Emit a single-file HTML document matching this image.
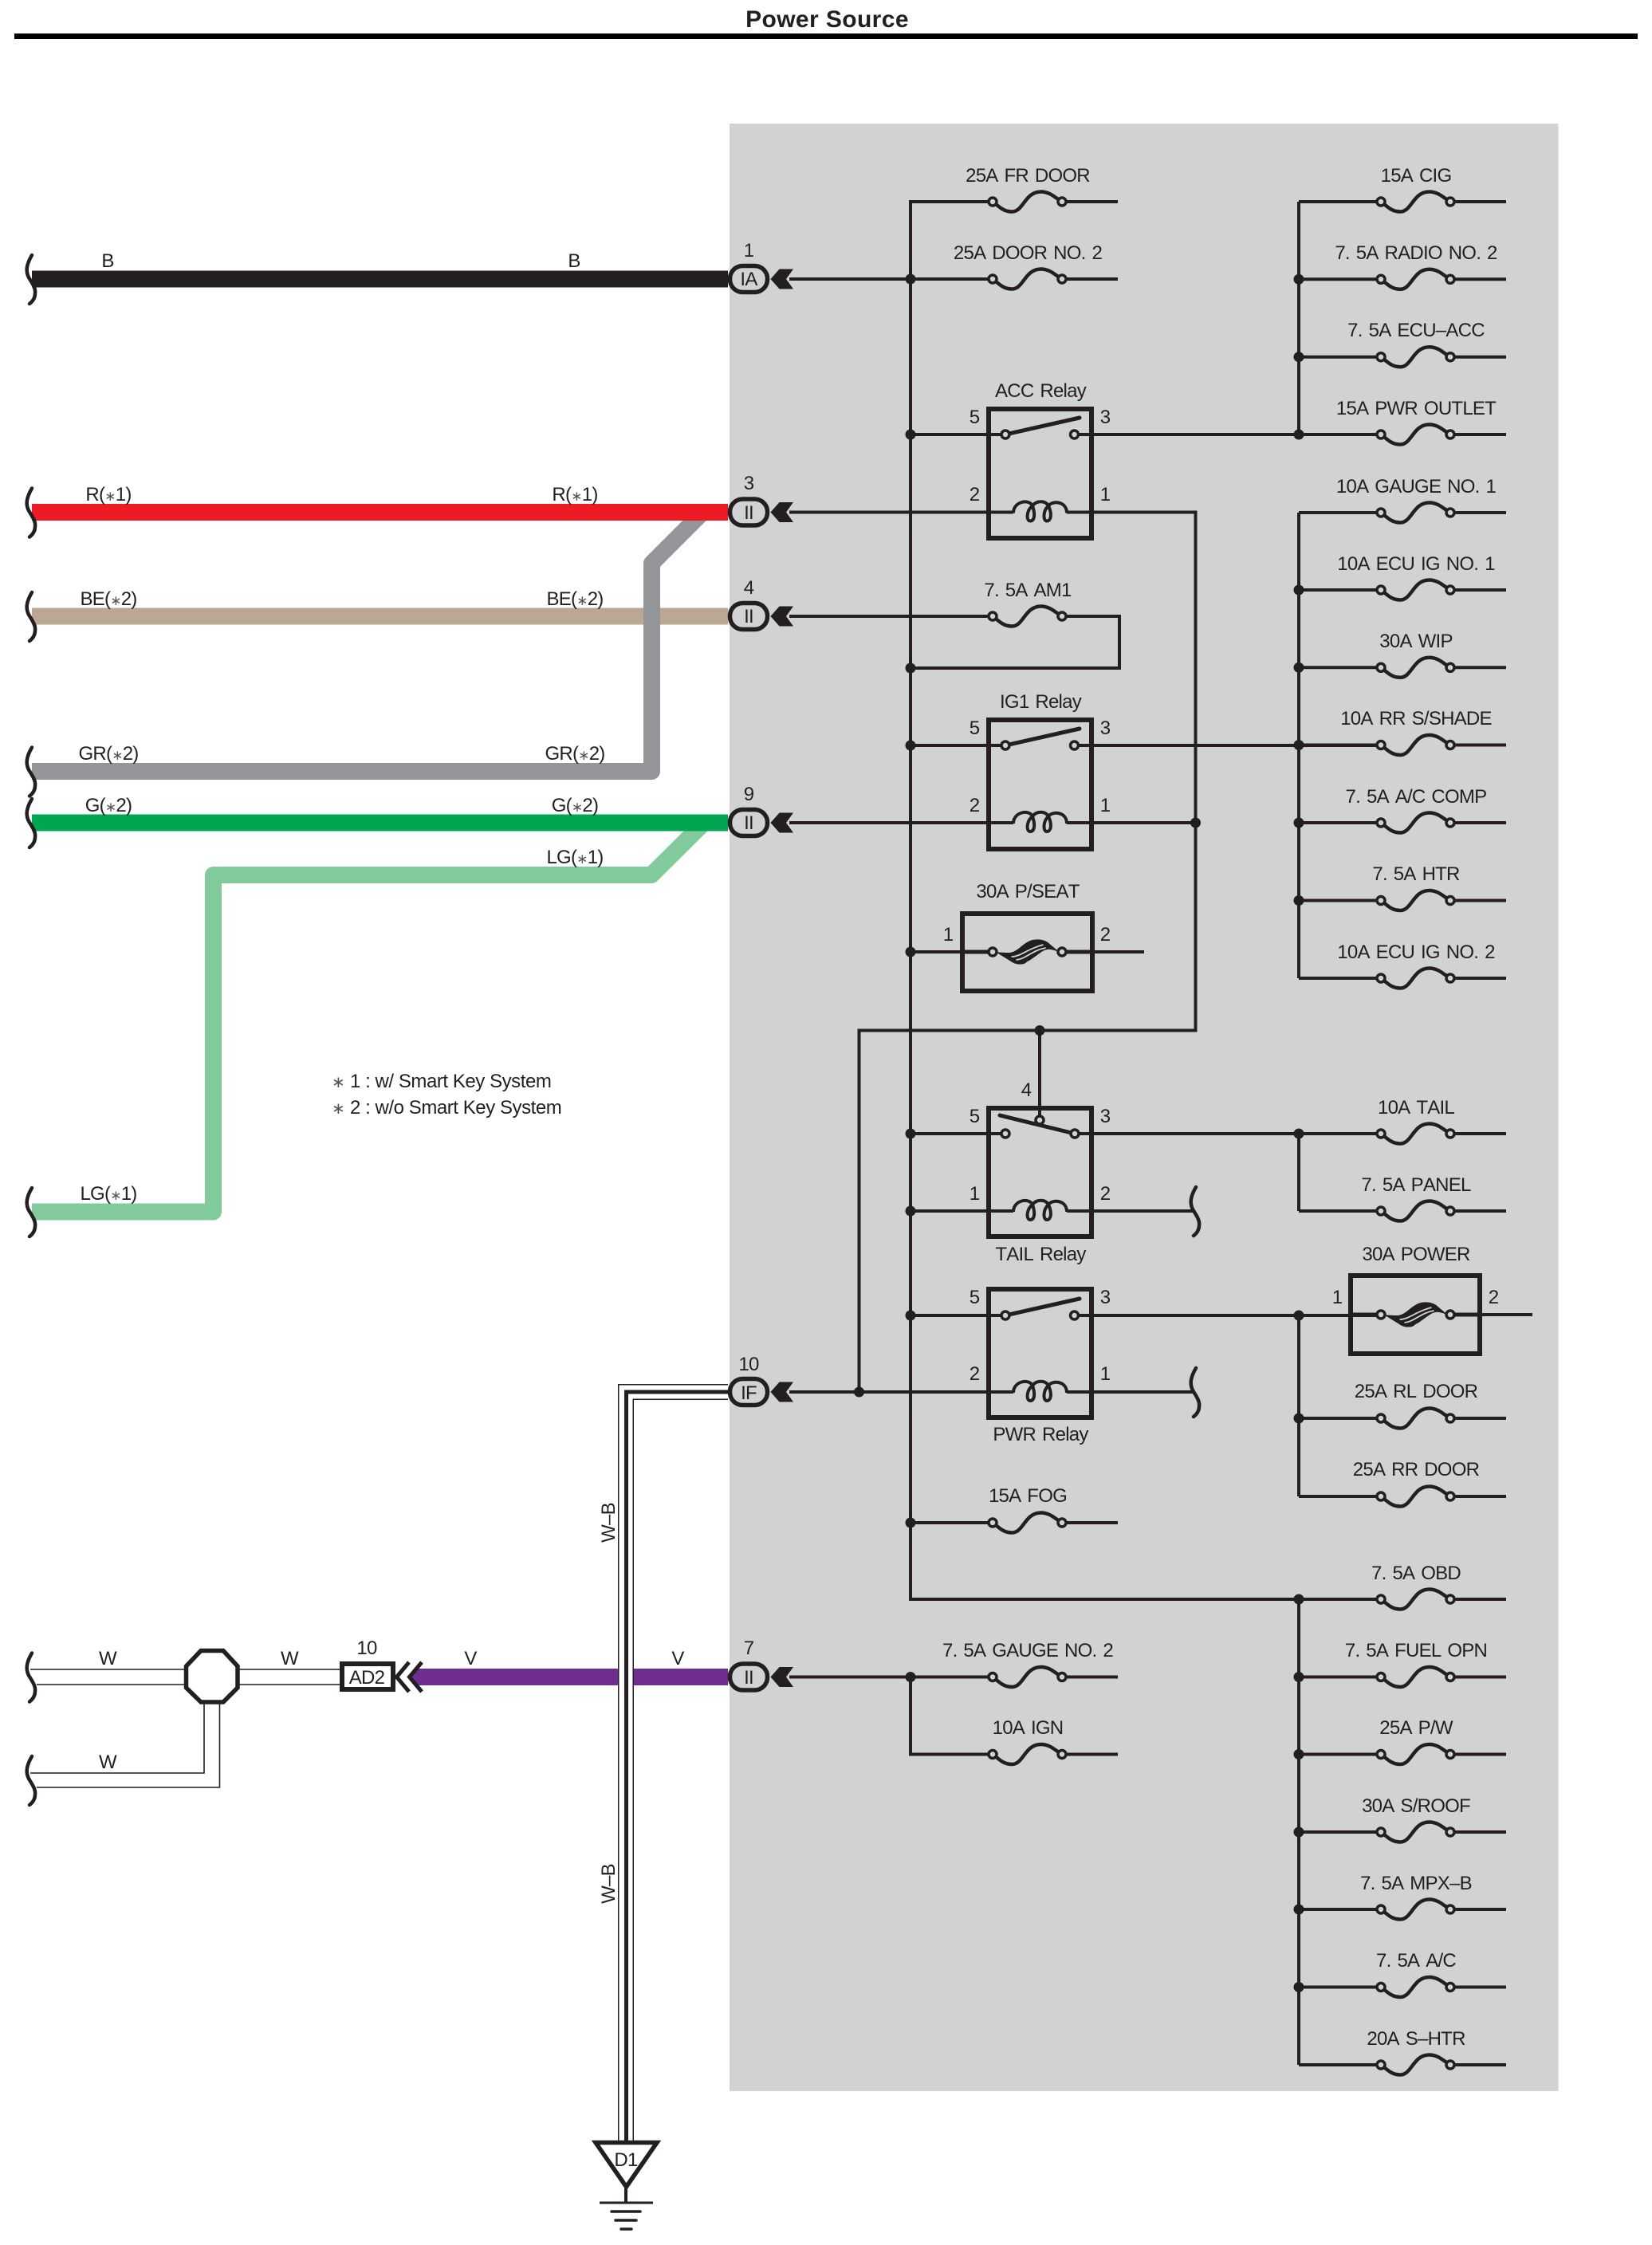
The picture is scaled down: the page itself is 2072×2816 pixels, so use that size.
<!DOCTYPE html>
<html lang="en">
<head>
<meta charset="utf-8">
<title>Power Source</title>
<style>
html,body{margin:0;padding:0;background:#fff}
svg{display:block}
text{font-family:"Liberation Sans",Arial,sans-serif;font-size:24px;fill:#231f20;letter-spacing:-.75px;word-spacing:2px;font-kerning:none;text-anchor:middle}
.w{fill:none;stroke:#231f20;stroke-width:4}
.f{fill:none;stroke:#231f20;stroke-width:6}
.t{fill:none;stroke:#231f20;stroke-width:1.6}
.c{fill:#d0d2d4;stroke:#231f20;stroke-width:3.5}
.a{fill:#555;font-size:17px}
</style>
</head>
<body>
<svg width="2072" height="2816" viewBox="0 0 2072 2816" xmlns="http://www.w3.org/2000/svg">
<defs>
<g id="fuse">
<path d="M43 0H113.500" class="w"/>
<path d="M-43 0C-33 9-28 12.500-19 12.500C-5 12.500-3-12.500 17-12.500C28-12.500 34-6 43 0" fill="none" stroke="#231f20" stroke-width="4.500"/>
<circle cx="-43.500" cy="0" r="5" class="c"/><circle cx="43.500" cy="0" r="5" class="c"/>
</g>
<g id="hfuse">
<path d="M-40 0C-30 1-26 1-22 1C-15 0-10-5-5-9C2-14 6-15.500 11-15.500C18-16 24-14 28-10L40 0C34-2 28-4 25-3C20-2 18 0 15 2C8 7 3 11 0 12C-3 15-5 15.500-8 15.500C-14 16-18 14-22 11Z" fill="#231f20"/>
<path d="M-20 6C-8 6 0-4 20-9M-14 10C-2 9 6-2 23-5" fill="none" stroke="#d0d2d4" stroke-width="1.800"/>
<circle cx="-43.500" cy="0" r="5" class="c"/><circle cx="43.500" cy="0" r="5" class="c"/>
</g>
<path id="coil" d="M-34 1C-34-14-14-17-10-8C-6 4-8 11-13 11C-18 11-18-2-10-8C-5-15 6-15 10-8C15 3 13 11 8 11C3 11 3-2 10-8C15-15 33-14 33 1" fill="none" stroke="#231f20" stroke-width="4"/>
<path id="sq" d="M1-30C-6-18-7-10-3-2C2 6 6 12 5 18C5 24 2 28-2 31" fill="none" stroke="#231f20" stroke-width="4.500" stroke-linecap="round"/>
<g id="conn">
<rect x="-23.500" y="-16.500" width="47" height="33" rx="16" fill="#d0d2d4" stroke="#231f20" stroke-width="5.500"/>
<polygon points="27.500,0 38.500,-12.500 56,-12.500 47,0 56,12.500 38.500,12.500" fill="#231f20"/>
</g>
<circle id="dot" r="6.500" fill="#231f20"/>
</defs>

<rect x="915" y="155" width="1039.500" height="2468" fill="#d0d2d4"/>

<text x="1037.500" y="34" style="font-size:30px;font-weight:bold;letter-spacing:.4px;word-spacing:0">Power Source</text>
<rect x="18" y="42" width="2036" height="7" fill="#000"/>

<!-- thick harness wires -->
<path d="M40 350H913" fill="none" stroke="#231f20" stroke-width="21"/>
<path d="M40 773H913" fill="none" stroke="#bba793" stroke-width="21"/>
<path d="M40 967.500H817.500V706.500L880 644" fill="none" stroke="#939598" stroke-width="21" stroke-linejoin="round"/>
<path d="M40 642.500H913" fill="none" stroke="#ed1c24" stroke-width="21"/>
<path d="M40 1520H267.500V1097.500H817L880 1035" fill="none" stroke="#82ca9c" stroke-width="21" stroke-linejoin="round"/>
<path d="M40 1032H913" fill="none" stroke="#00a651" stroke-width="21"/>
<polygon points="513,2103.500 522,2093 913,2093 913,2114 522,2114" fill="#6f2c91"/>

<!-- W-B wire -->
<path d="M913 1746H785V2688" fill="none" stroke="#231f20" stroke-width="20"/>
<path d="M913 1746H785V2688" fill="none" stroke="#fff" stroke-width="17"/>
<path d="M913 1746H785.500V2688" fill="none" stroke="#231f20" stroke-width="5"/>

<!-- left squiggles -->
<use href="#sq" x="39" y="350"/><use href="#sq" x="39" y="642.500"/><use href="#sq" x="39" y="773"/>
<use href="#sq" x="39" y="967.500"/><use href="#sq" x="39" y="1032"/><use href="#sq" x="39" y="1520"/>
<use href="#sq" x="39" y="2103.500"/><use href="#sq" x="39" y="2233"/>

<!-- W wires -->
<path d="M38 2094H231M46 2113H231M300 2094H426M300 2113H426M38 2224H256V2137M46 2242H275.500V2137" class="t"/>
<polygon points="252,2070.500 280,2070.500 298,2090 298,2117 280,2135 252,2135 233.500,2117 233.500,2090" fill="#fff" stroke="#231f20" stroke-width="5.500"/>
<rect x="429" y="2087" width="64" height="32" fill="#fff" stroke="#231f20" stroke-width="6"/>
<path d="M513 2085L497.500 2103.500L513 2122M529 2085L513.500 2103.500L529 2122" fill="none" stroke="#231f20" stroke-width="5"/>

<!-- connectors -->
<use href="#conn" x="939" y="350"/><use href="#conn" x="939" y="642.500"/><use href="#conn" x="939" y="773"/>
<use href="#conn" x="939" y="1032"/><use href="#conn" x="939" y="1746"/><use href="#conn" x="939" y="2103.500"/>

<!-- internal wiring -->
<path class="w" d="M1245 253H1142V2006H1629M990 350H1245M1142 545H1261M1347 545H1732
M990 642.500H1271M1338 642.500H1499.500V1292.500H1077.500V1746M990 773H1245M1332 773H1404V838H1142
M1142 935H1261M1347 935H1732M990 1032H1271M1338 1032H1499
M1142 1194H1245M1332 1194H1435M1304 1292.500V1405
M1142 1422H1261M1348 1422H1732M1142 1519H1271M1338 1519H1497
M1142 1650H1261M1347 1650H1732M1818 1649H1922M990 1746H1271M1338 1746H1497
M1142 1910H1245M990 2103.500H1245M1142 2103.500V2200.500H1245
M1629 253V545M1629 643V1227M1629 1422V1519M1629 1650V1877M1629 2006V2590
M1629 253H1732M1629 350.300H1732M1629 447.700H1732
M1629 643H1732M1629 740H1732M1629 837.300H1732M1629 934.500H1732M1629 1032H1732M1629 1129.500H1732M1629 1227H1732
M1629 1519H1732M1629 1779H1732M1629 1877H1732
M1629 2006H1732M1629 2103.500H1732M1629 2200.500H1732M1629 2298H1732M1629 2395H1732M1629 2492.500H1732M1629 2590H1732"/>

<!-- fuses -->
<use href="#fuse" x="1288.500" y="253"/><use href="#fuse" x="1288.500" y="350"/>
<path d="M-43 0C-33 9-28 12.500-19 12.500C-5 12.500-3-12.500 17-12.500C28-12.500 34-6 43 0" fill="none" stroke="#231f20" stroke-width="4.500" transform="translate(1288.500 773)"/>
<circle cx="1245" cy="773" r="5" class="c"/><circle cx="1332" cy="773" r="5" class="c"/>
<use href="#fuse" x="1288.500" y="1910"/><use href="#fuse" x="1288.500" y="2103.500"/><use href="#fuse" x="1288.500" y="2200.500"/>
<use href="#fuse" x="1775.500" y="253"/><use href="#fuse" x="1775.500" y="350.300"/><use href="#fuse" x="1775.500" y="447.700"/><use href="#fuse" x="1775.500" y="545"/>
<use href="#fuse" x="1775.500" y="643"/><use href="#fuse" x="1775.500" y="740"/><use href="#fuse" x="1775.500" y="837.300"/><use href="#fuse" x="1775.500" y="934.500"/>
<use href="#fuse" x="1775.500" y="1032"/><use href="#fuse" x="1775.500" y="1129.500"/><use href="#fuse" x="1775.500" y="1227"/>
<use href="#fuse" x="1775.500" y="1422"/><use href="#fuse" x="1775.500" y="1519"/><use href="#fuse" x="1775.500" y="1779"/><use href="#fuse" x="1775.500" y="1877"/>
<use href="#fuse" x="1775.500" y="2006"/><use href="#fuse" x="1775.500" y="2103.500"/><use href="#fuse" x="1775.500" y="2200.500"/><use href="#fuse" x="1775.500" y="2298"/>
<use href="#fuse" x="1775.500" y="2395"/><use href="#fuse" x="1775.500" y="2492.500"/><use href="#fuse" x="1775.500" y="2590"/>

<!-- right squiggles on wiring -->
<use href="#sq" x="1499" y="1519"/><use href="#sq" x="1499" y="1746"/>

<!-- relays -->
<rect x="1240" y="513" width="129" height="162" class="f"/>
<rect x="1240" y="903" width="129" height="162" class="f"/>
<rect x="1240" y="1390" width="129" height="161" class="f"/>
<rect x="1240" y="1617" width="129" height="161" class="f"/>
<use href="#coil" x="1305" y="642.500"/><use href="#coil" x="1305" y="1032"/><use href="#coil" x="1305" y="1519"/><use href="#coil" x="1305" y="1746"/>
<path d="M1261 545L1354 524M1261 935L1354 914M1261 1650L1354 1629M1254 1399L1348 1422" fill="none" stroke="#231f20" stroke-width="5" stroke-linecap="round"/>
<circle cx="1261" cy="545" r="5" class="c"/><circle cx="1347.500" cy="545" r="5" class="c"/>
<circle cx="1261" cy="935" r="5" class="c"/><circle cx="1347.500" cy="935" r="5" class="c"/>
<circle cx="1261" cy="1422" r="5" class="c"/><circle cx="1348" cy="1422" r="5" class="c"/><circle cx="1304" cy="1405" r="5" class="c"/>
<circle cx="1261" cy="1650" r="5" class="c"/><circle cx="1347.500" cy="1650" r="5" class="c"/>

<!-- heavy fuses -->
<rect x="1207" y="1146" width="163" height="97" class="f"/>
<path d="M1207 1194H1245M1332 1194H1370" fill="none" stroke="#231f20" stroke-width="5"/>
<use href="#hfuse" x="1288.500" y="1194"/>
<rect x="1694" y="1600" width="162" height="98" class="f"/>
<path d="M1694 1649H1732M1818 1649H1856" fill="none" stroke="#231f20" stroke-width="5"/>
<use href="#hfuse" x="1775.500" y="1649"/>

<!-- junction dots -->
<use href="#dot" x="1142" y="350"/><use href="#dot" x="1142" y="545"/><use href="#dot" x="1142" y="838"/><use href="#dot" x="1142" y="935"/>
<use href="#dot" x="1142" y="1194"/><use href="#dot" x="1142" y="1422"/><use href="#dot" x="1142" y="1519"/><use href="#dot" x="1142" y="1650"/>
<use href="#dot" x="1142" y="1910"/><use href="#dot" x="1142" y="2103.500"/>
<use href="#dot" x="1304" y="1292.500"/><use href="#dot" x="1499.500" y="1032"/><use href="#dot" x="1077.500" y="1746"/>
<use href="#dot" x="1629" y="350.300"/><use href="#dot" x="1629" y="447.700"/><use href="#dot" x="1629" y="545"/>
<use href="#dot" x="1629" y="740"/><use href="#dot" x="1629" y="837.300"/><use href="#dot" x="1629" y="934.500"/><use href="#dot" x="1629" y="1032"/><use href="#dot" x="1629" y="1129.500"/>
<use href="#dot" x="1629" y="1422"/><use href="#dot" x="1629" y="1650"/><use href="#dot" x="1629" y="1779"/>
<use href="#dot" x="1629" y="2006"/><use href="#dot" x="1629" y="2103.500"/><use href="#dot" x="1629" y="2200.500"/><use href="#dot" x="1629" y="2298"/><use href="#dot" x="1629" y="2395"/><use href="#dot" x="1629" y="2492.500"/>

<!-- ground -->
<polygon points="747,2687.500 824,2687.500 785.500,2743" fill="#fff" stroke="#231f20" stroke-width="5.500"/>
<path d="M785 2745V2763" class="w"/>
<path d="M752 2763H819" fill="none" stroke="#231f20" stroke-width="3"/>
<path d="M767 2774H803" fill="none" stroke="#231f20" stroke-width="3.500" stroke-linecap="round"/>
<path d="M772 2785H798" fill="none" stroke="#231f20" stroke-width="3.500" stroke-linecap="round"/>
<path d="M779 2796H792" fill="none" stroke="#231f20" stroke-width="3.500" stroke-linecap="round"/>
<text x="785" y="2717">D1</text>

<!-- wire labels -->
<text x="135" y="335">B</text><text x="720" y="335">B</text>
<text x="136" y="628">R(<tspan class="a">∗</tspan>1)</text><text x="721" y="628">R(<tspan class="a">∗</tspan>1)</text>
<text x="136" y="759">BE(<tspan class="a">∗</tspan>2)</text><text x="721" y="759">BE(<tspan class="a">∗</tspan>2)</text>
<text x="136" y="953">GR(<tspan class="a">∗</tspan>2)</text><text x="721" y="953">GR(<tspan class="a">∗</tspan>2)</text>
<text x="136" y="1018">G(<tspan class="a">∗</tspan>2)</text><text x="721" y="1018">G(<tspan class="a">∗</tspan>2)</text>
<text x="721" y="1083">LG(<tspan class="a">∗</tspan>1)</text><text x="136" y="1505">LG(<tspan class="a">∗</tspan>1)</text>
<text x="135" y="2088">W</text><text x="363" y="2088">W</text><text x="135" y="2218">W</text>
<text x="590" y="2088">V</text><text x="850" y="2088">V</text>
<text transform="translate(771 1910) rotate(-90)">W–B</text>
<text transform="translate(771 2363) rotate(-90)">W–B</text>

<!-- connector labels -->
<text x="939" y="322">1</text><text x="939" y="614">3</text><text x="939" y="745">4</text><text x="939" y="1004">9</text><text x="939" y="1719">10</text><text x="939" y="2075">7</text>
<text x="939" y="358">IA</text><text x="939" y="651">II</text><text x="939" y="781">II</text><text x="939" y="1040">II</text><text x="939" y="1755">IF</text><text x="939" y="2112">II</text>
<text x="460" y="2075">10</text><text x="460" y="2112">AD2</text>

<!-- legend -->
<text x="424" y="1364" style="font-size:20px;fill:#555">∗</text><text x="439" y="1364" style="text-anchor:start;letter-spacing:-.45px;word-spacing:0">1 : w/ Smart Key System</text>
<text x="424" y="1397" style="font-size:20px;fill:#555">∗</text><text x="439" y="1397" style="text-anchor:start;letter-spacing:-.45px;word-spacing:0">2 : w/o Smart Key System</text>

<!-- relay labels and pins -->
<text x="1305" y="498">ACC Relay</text><text x="1305" y="888">IG1 Relay</text><text x="1305" y="1581">TAIL Relay</text><text x="1305" y="1807">PWR Relay</text>
<text x="1222" y="531">5</text><text x="1386" y="531">3</text><text x="1222" y="628">2</text><text x="1386" y="628">1</text>
<text x="1222" y="921">5</text><text x="1386" y="921">3</text><text x="1222" y="1018">2</text><text x="1386" y="1018">1</text>
<text x="1222" y="1408">5</text><text x="1386" y="1408">3</text><text x="1222" y="1505">1</text><text x="1386" y="1505">2</text><text x="1287" y="1375">4</text>
<text x="1222" y="1635">5</text><text x="1386" y="1635">3</text><text x="1222" y="1731">2</text><text x="1386" y="1731">1</text>
<text x="1189" y="1180">1</text><text x="1386" y="1180">2</text><text x="1677" y="1635">1</text><text x="1873" y="1635">2</text>

<!-- fuse labels -->
<text x="1289" y="228">25A FR DOOR</text><text x="1289" y="325">25A DOOR NO. 2</text><text x="1289" y="748">7. 5A AM1</text>
<text x="1289" y="1126">30A P/SEAT</text><text x="1289" y="1884">15A FOG</text><text x="1289" y="2078">7. 5A GAUGE NO. 2</text><text x="1289" y="2175">10A IGN</text>
<text x="1776" y="228">15A CIG</text><text x="1776" y="325">7. 5A RADIO NO. 2</text><text x="1776" y="422">7. 5A ECU–ACC</text><text x="1776" y="520">15A PWR OUTLET</text>
<text x="1776" y="618">10A GAUGE NO. 1</text><text x="1776" y="715">10A ECU IG NO. 1</text><text x="1776" y="812">30A WIP</text><text x="1776" y="909">10A RR S/SHADE</text>
<text x="1776" y="1007">7. 5A A/C COMP</text><text x="1776" y="1104">7. 5A HTR</text><text x="1776" y="1202">10A ECU IG NO. 2</text>
<text x="1776" y="1397">10A TAIL</text><text x="1776" y="1494">7. 5A PANEL</text><text x="1776" y="1581">30A POWER</text>
<text x="1776" y="1753">25A RL DOOR</text><text x="1776" y="1851">25A RR DOOR</text>
<text x="1776" y="1981">7. 5A OBD</text><text x="1776" y="2078">7. 5A FUEL OPN</text><text x="1776" y="2175">25A P/W</text><text x="1776" y="2273">30A S/ROOF</text>
<text x="1776" y="2370">7. 5A MPX–B</text><text x="1776" y="2467">7. 5A A/C</text><text x="1776" y="2565">20A S–HTR</text>
</svg>
</body>
</html>
